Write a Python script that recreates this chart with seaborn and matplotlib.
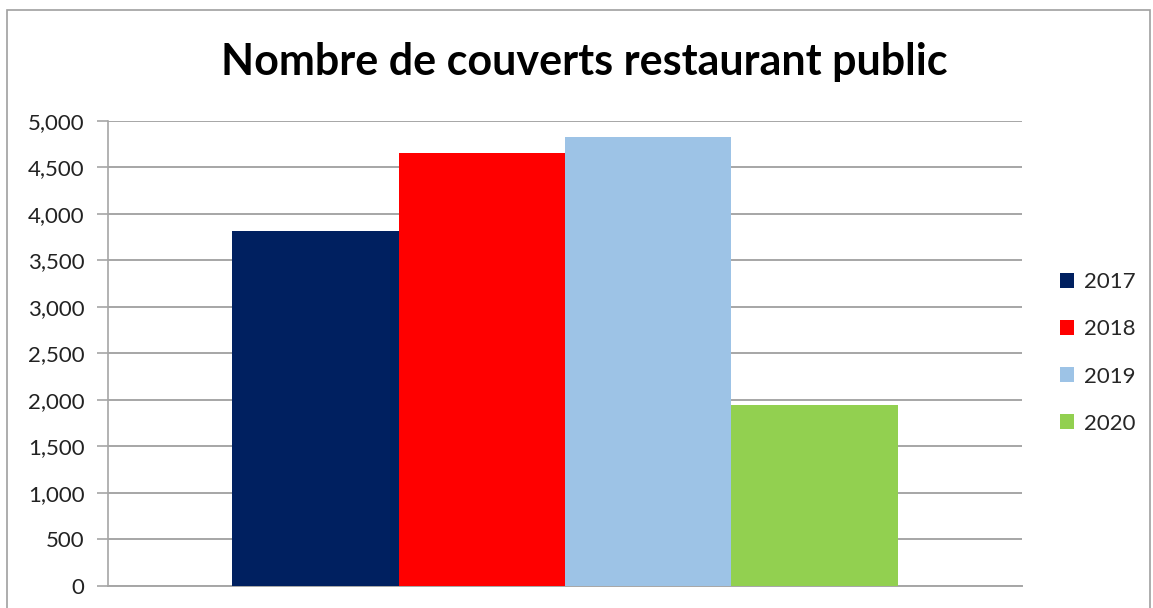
import pandas as pd
import seaborn as sns
import matplotlib.pyplot as plt
from matplotlib.patches import Rectangle

# données
annees = ["2017", "2018", "2019", "2020"]
couverts = [3820, 4655, 4825, 1940]
couleurs = ["#002060", "#FF0000", "#9DC3E6", "#92D050"]
yticks = list(range(0, 5001, 500))

df = pd.DataFrame({"groupe": [""] * len(annees), "annee": annees, "couverts": couverts})

sns.set_style("white")
plt.rcParams["font.family"] = ["Lato", "DejaVu Sans"]

fig = plt.figure(figsize=(11.53, 6.08), dpi=100)
ax = fig.add_axes([108 / 1153, 1 - 585.5 / 608, (1022 - 108) / 1153, (585.5 - 121) / 608])

sns.barplot(data=df, x="groupe", y="couverts", hue="annee", palette=couleurs,
            width=0.728, saturation=1, ax=ax, zorder=3, linewidth=0)

ax.set_ylim(0, 5000)
ax.set_xlim(-0.5, 0.5)
ax.set_yticks(yticks)
ax.set_yticklabels([f"{v:,}" for v in yticks], fontsize=16, color="#222222")
ax.set_xticks([])
ax.set_xlabel("")
ax.set_ylabel("")
ax.grid(axis="y", color="#A6A6A6", linewidth=1.4, zorder=0)
ax.tick_params(axis="y", length=8, width=1.2, color="#A6A6A6", pad=9, left=True)
for s in ["top", "right"]:
    ax.spines[s].set_visible(False)
ax.spines["left"].set_color("#A6A6A6")
ax.spines["bottom"].set_color("#A6A6A6")
ax.spines["left"].set_linewidth(1.2)
ax.spines["bottom"].set_linewidth(1.4)

handles, labels = ax.get_legend_handles_labels()
ax.legend(handles, labels, loc="center left", bbox_to_anchor=(1051 / 1153, 1 - 353 / 608),
          bbox_transform=fig.transFigure, frameon=False, fontsize=16,
          handlelength=0.65, handleheight=0.65, handletextpad=0.45, labelspacing=1.22,
          borderaxespad=0)

fig.text(584 / 1153, 1 - 62 / 608, "Nombre de couverts restaurant public",
         ha="center", va="center", fontsize=31, fontweight="bold", color="black")

fig.patches.append(Rectangle((7 / 1153, -0.1), (1150 - 7) / 1153, 1.1 - 10 / 608,
                             transform=fig.transFigure, fill=False,
                             edgecolor="#A0A0A0", linewidth=1.2))

fig.savefig("out.png", dpi=100)
